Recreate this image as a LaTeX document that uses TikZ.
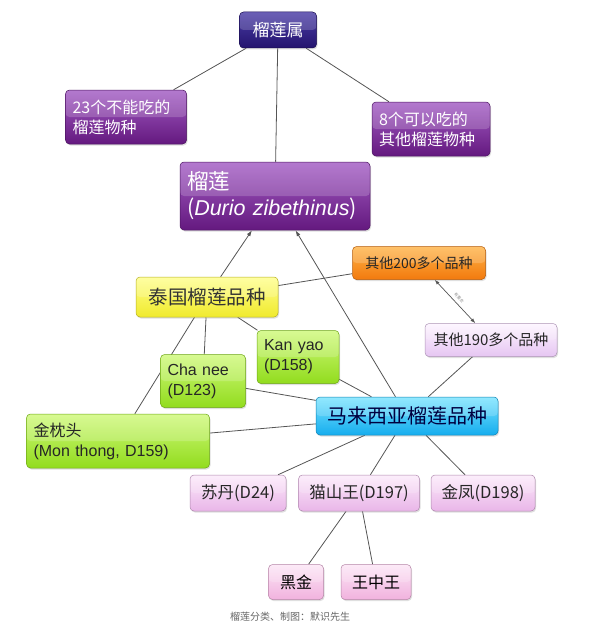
\documentclass[tikz,border=0pt]{standalone}
\usepackage{fontspec}
\setmainfont{Noto Sans CJK SC}
\newfontfamily\cjkfont{Noto Sans CJK SC}
\newfontfamily\latinfont{Liberation Sans}
\usetikzlibrary{shadows,arrows.meta,backgrounds}

\definecolor{genusT}{HTML}{4A3CA6}
\definecolor{genusB}{HTML}{24146E}
\definecolor{purpleT}{HTML}{A35CC4}
\definecolor{purpleB}{HTML}{64197F}
\definecolor{yellowT}{HTML}{FFFF8C}
\definecolor{yellowB}{HTML}{F0EA2E}
\definecolor{orangeT}{HTML}{FFB448}
\definecolor{orangeB}{HTML}{F27A0E}
\definecolor{lavT}{HTML}{FDF4FF}
\definecolor{lavB}{HTML}{E6C6F2}
\definecolor{greenT}{HTML}{CFF97A}
\definecolor{greenB}{HTML}{92DC1E}
\definecolor{cyanT}{HTML}{7AE4FF}
\definecolor{cyanB}{HTML}{16ADEE}
\definecolor{pinkT}{HTML}{FCEAFA}
\definecolor{pinkB}{HTML}{E9B6E8}
\definecolor{roseT}{HTML}{FCE6F6}
\definecolor{roseB}{HTML}{F1B2DE}
\definecolor{linegray}{HTML}{555555}

\begin{document}
\begin{tikzpicture}[x=1pt,y=-1pt,
  box/.style 2 args={rounded corners=4pt, draw=#2!75!black, line width=.5pt,
    top color=#1, bottom color=#2,
    drop shadow={opacity=.25, shadow xshift=1pt, shadow yshift=-1.5pt},
    path picture={\fill[white,opacity=.18] (path picture bounding box.north west)
      rectangle (path picture bounding box.east);},
    inner xsep=7pt, inner ysep=2pt},
  genusbox/.style={box={genusT}{genusB}, text=white, minimum width=77pt,
    minimum height=36pt, font=\fontsize{17}{20}\selectfont},
  purplebox/.style={box={purpleT}{purpleB}, text=white, align=left,
    font=\fontsize{16}{20}\selectfont},
  yellowbox/.style={box={yellowT}{yellowB}, text=black!80, minimum width=142pt,
    minimum height=40pt, font=\fontsize{19.5}{24}\selectfont},
  orangebox/.style={box={orangeT}{orangeB}, text=black!85, minimum width=133pt,
    minimum height=33pt, font=\fontsize{14}{16}\selectfont},
  lavbox/.style={box={lavT}{lavB}, text=black!85, minimum width=132pt,
    minimum height=33pt, font=\fontsize{15}{16}\selectfont},
  greenbox/.style={box={greenT}{greenB}, text=black!85, align=left,
    font=\latinfont\fontsize{16}{20}\selectfont},
  cyanbox/.style={box={cyanT}{cyanB}, text=black!75!blue, minimum width=182pt,
    minimum height=38pt, font=\fontsize{20}{24}\selectfont},
  pinkbox/.style={box={pinkT}{pinkB}, text=black!85, minimum height=36pt,
    font=\fontsize{16.5}{20}\selectfont},
  rosebox/.style={box={roseT}{roseB}, text=black, minimum height=35pt,
    font=\fontsize{16}{20}\selectfont},
  link/.style={draw=linegray, line width=.8pt},
  arrow/.style={link, -{Latex[length=6pt,width=4pt]}},
  twoway/.style={draw=linegray, line width=.7pt, {Latex[length=5pt,width=3.5pt]}-{Latex[length=5pt,width=3.5pt]}},
  caption/.style={text=black!60, font=\fontsize{10}{12}\selectfont}
]
\useasboundingbox (0,0) rectangle (592,626);

% genus and species
\node[genusbox] (genus) at (278,30) {榴莲属};
\node[purplebox, minimum width=121pt, minimum height=54pt, text width=107pt] (inedible) at (126,117) {23个不能吃的\\榴莲物种};
\node[purplebox, minimum width=118pt, minimum height=54pt, text width=104pt] (edible) at (431,129) {8个可以吃的\\其他榴莲物种};
\node[purplebox, minimum width=190pt, minimum height=68pt, text width=176pt,
  font=\fontsize{21.5}{26}\selectfont] (durio) at (275,196) {榴莲\\({\latinfont\itshape Durio zibethinus})};

% cultivar groups
\node[yellowbox] (thai) at (207,297) {泰国榴莲品种};
\node[orangebox] (other200) at (419,263) {其他200多个品种};
\node[lavbox] (other190) at (491,340) {其他190多个品种};
\node[cyanbox] (malay) at (407,416) {马来西亚榴莲品种};

% Thai cultivars
\node[greenbox, minimum width=82pt, minimum height=53pt, text width=68pt] (kanyao) at (298,357) {Kan yao\\(D158)};
\node[greenbox, minimum width=85pt, minimum height=53pt, text width=71pt] (chanee) at (203,381) {Cha nee\\(D123)};
\node[greenbox, minimum width=183pt, minimum height=54pt, text width=169pt] (monthong) at (118,441) {{\cjkfont 金枕头}\\(Mon thong, D159)};

% Malaysian cultivars
\node[pinkbox, minimum width=96pt] (sudan) at (238,493) {苏丹(D24)};
\node[pinkbox, minimum width=121pt] (musang) at (359,493) {猫山王(D197)};
\node[pinkbox, minimum width=104pt] (jinfeng) at (483,493) {金凤(D198)};
\node[rosebox, minimum width=55pt] (heijin) at (296,582) {黑金};
\node[rosebox, minimum width=70pt] (wangzhong) at (376,582) {王中王};

\node[caption] (title) at (290,617) {榴莲分类、制图：默识先生};

\begin{scope}[on background layer]
\draw[link] (genus) -- (inedible);
\draw[link] (genus) -- (edible);
\draw[link] (genus) -- (durio);
\draw[arrow] (thai) -- (durio);
\draw[arrow] (malay) -- (durio);
\draw[link] (thai) -- (other200);
\draw[twoway] (other200) -- node[sloped, above, text=black!45, font=\fontsize{4}{5}\selectfont] (overlap) {有重合} (other190);
\draw[link] (other190) -- (malay);
\foreach \v in {chanee,kanyao,monthong}
  \draw[link] (thai) -- (\v);
\foreach \v in {chanee,kanyao,monthong}
  \draw[link] (\v) -- (malay);
\foreach \v in {sudan,musang,jinfeng}
  \draw[link] (malay) -- (\v);
\foreach \v in {heijin,wangzhong}
  \draw[link] (musang) -- (\v);
\end{scope}
\end{tikzpicture}
\end{document}
